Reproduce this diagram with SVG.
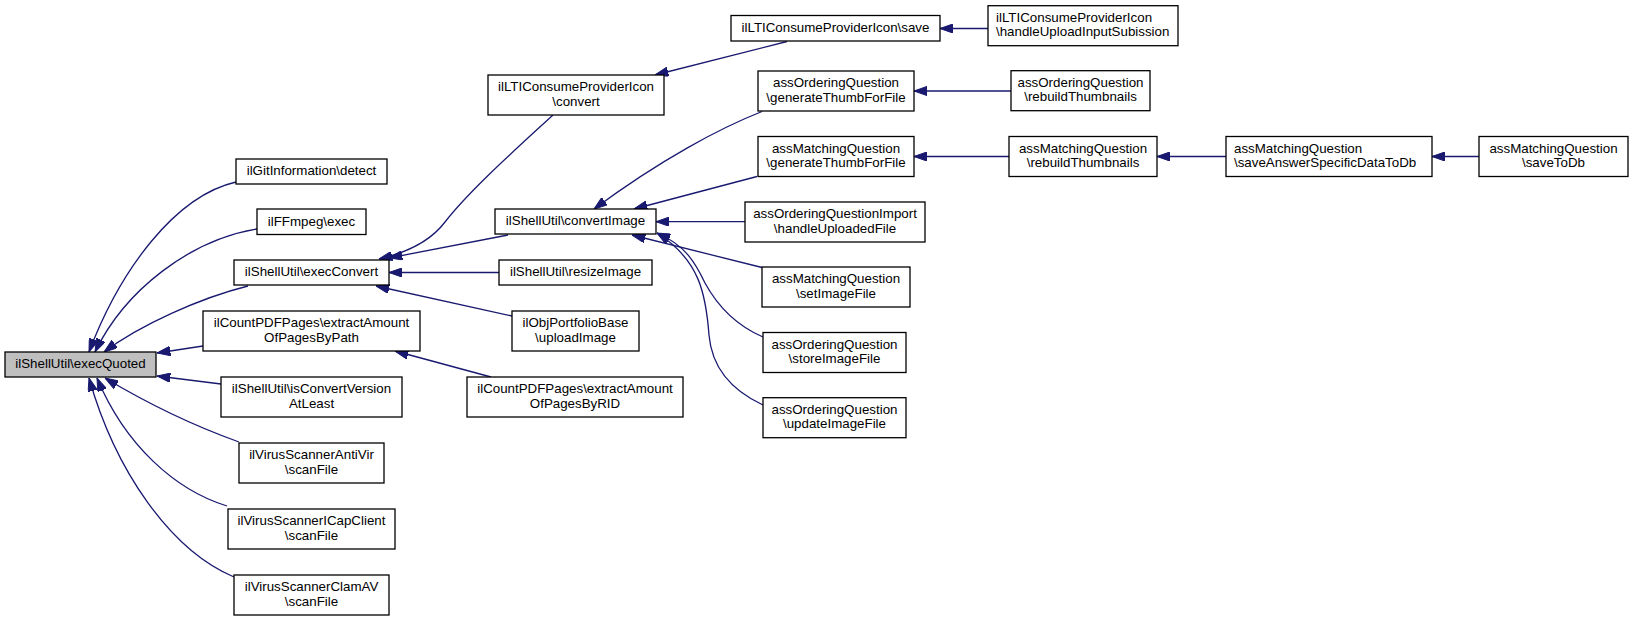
<svg xmlns="http://www.w3.org/2000/svg" width="1633" height="619" viewBox="0 0 1633 619">
<style>
.n rect{fill:#fff;stroke:#000;stroke-width:1.3}
.n text{font-family:"Liberation Sans",Arial,Helvetica,sans-serif;font-size:13.33px;fill:#000;text-anchor:middle}
.n text.l{text-anchor:start}
#edges path{fill:none;stroke:#191970;stroke-width:1.3;marker-end:url(#ah)}
</style>
<defs>
<marker id="ah" markerUnits="userSpaceOnUse" viewBox="0 0 13.3 9.4" refX="13.3" refY="4.7" markerWidth="13.3" markerHeight="9.4" orient="auto">
<path d="M0,0 L13.3,4.7 L0,9.4 z" fill="#191970" stroke="#191970" stroke-width="1"/>
</marker>
</defs>
<rect width="1633" height="619" fill="#fff"/>
<g id="edges">
<path d="M236,182 C175,196 120,270 89,352"/>
<path d="M257,229 C190,240 125,290 95,352"/>
<path d="M248,286 C200,298 140,325 104,352"/>
<path d="M203,346 L157,353"/>
<path d="M221,384 L157,376"/>
<path d="M239,442 C200,428 150,405 105,378"/>
<path d="M227,506 C175,490 125,445 97,378"/>
<path d="M234,577 C170,550 115,470 89,378"/>
<path d="M553,115 C515,150 470,190 445,222 C430,242 405,253 379,259"/>
<path d="M508,235 L389,258"/>
<path d="M499,272.5 L389,272.5"/>
<path d="M512,316 L376,286"/>
<path d="M491,377 L395,351"/>
<path d="M787,41.5 L655,75"/>
<path d="M762,111.5 C720,128 660,160 594,209"/>
<path d="M757,176.5 L634,209"/>
<path d="M745,221.7 L656,221.7"/>
<path d="M762,267.5 L632,235"/>
<path d="M763,337 C735,325 717,305 705,283 C695,262 685,245 657,233"/>
<path d="M763,405 C735,392 712,370 709,335 C706,295 700,260 657,233"/>
<path d="M988,28.5 L940,28.5"/>
<path d="M1011,91 L914,91"/>
<path d="M1009,156.5 L914,156.5"/>
<path d="M1226,156.5 L1157,156.5"/>
<path d="M1479,156.5 L1432,156.5"/>
</g>
<g id="execQuoted" class="n"><rect x="5" y="352" width="151" height="25" style="fill:#bfbfbf"/><text x="80.5" y="368">ilShellUtil\execQuoted</text></g>
<g id="gitDetect" class="n"><rect x="236" y="159" width="151" height="25"/><text x="311.5" y="175">ilGitInformation\detect</text></g>
<g id="ffmpegExec" class="n"><rect x="257" y="209" width="109" height="25.5"/><text x="311.5" y="225.5">ilFFmpeg\exec</text></g>
<g id="execConvert" class="n"><rect x="234" y="260" width="155" height="25"/><text x="311.5" y="276">ilShellUtil\execConvert</text></g>
<g id="byPath" class="n"><rect x="203" y="311" width="217" height="40"/><text x="311.5" y="327">ilCountPDFPages\extractAmount</text><text x="311.5" y="341.7">OfPagesByPath</text></g>
<g id="isConvert" class="n"><rect x="221" y="377" width="181" height="40"/><text x="311.5" y="393">ilShellUtil\isConvertVersion</text><text x="311.5" y="407.7">AtLeast</text></g>
<g id="antiVir" class="n"><rect x="239" y="443" width="145" height="40"/><text x="311.5" y="459">ilVirusScannerAntiVir</text><text x="311.5" y="473.7">\scanFile</text></g>
<g id="icap" class="n"><rect x="228" y="509" width="167" height="40"/><text x="311.5" y="525">ilVirusScannerICapClient</text><text x="311.5" y="539.7">\scanFile</text></g>
<g id="clamav" class="n"><rect x="234" y="575" width="155" height="40"/><text x="311.5" y="591">ilVirusScannerClamAV</text><text x="311.5" y="605.7">\scanFile</text></g>
<g id="ltiConvert" class="n"><rect x="488" y="75" width="176" height="40"/><text x="576" y="91">ilLTIConsumeProviderIcon</text><text x="576" y="105.7">\convert</text></g>
<g id="convertImage" class="n"><rect x="495" y="209" width="161" height="25"/><text x="575.5" y="225">ilShellUtil\convertImage</text></g>
<g id="resizeImage" class="n"><rect x="499" y="260" width="153" height="25"/><text x="575.5" y="276">ilShellUtil\resizeImage</text></g>
<g id="portfolio" class="n"><rect x="512" y="311" width="127" height="40"/><text x="575.5" y="327">ilObjPortfolioBase</text><text x="575.5" y="341.7">\uploadImage</text></g>
<g id="byRID" class="n"><rect x="467" y="377" width="216" height="40"/><text x="575" y="393">ilCountPDFPages\extractAmount</text><text x="575" y="407.7">OfPagesByRID</text></g>
<g id="ltiSave" class="n"><rect x="731" y="15.5" width="209" height="25.5"/><text x="835.5" y="32">ilLTIConsumeProviderIcon\save</text></g>
<g id="ordThumb" class="n"><rect x="758" y="71" width="156" height="40"/><text x="836" y="87">assOrderingQuestion</text><text x="836" y="101.7">\generateThumbForFile</text></g>
<g id="matchThumb" class="n"><rect x="758" y="136.5" width="156" height="40"/><text x="836" y="152.5">assMatchingQuestion</text><text x="836" y="167.2">\generateThumbForFile</text></g>
<g id="ordImport" class="n"><rect x="745" y="202" width="180" height="40"/><text x="835" y="218">assOrderingQuestionImport</text><text x="835" y="232.7">\handleUploadedFile</text></g>
<g id="matchSetImage" class="n"><rect x="762" y="267" width="148" height="40"/><text x="836" y="283">assMatchingQuestion</text><text x="836" y="297.7">\setImageFile</text></g>
<g id="ordStore" class="n"><rect x="763" y="332.5" width="143" height="40"/><text x="834.5" y="348.5">assOrderingQuestion</text><text x="834.5" y="363.2">\storeImageFile</text></g>
<g id="ordUpdate" class="n"><rect x="763" y="397.7" width="143" height="40"/><text x="834.5" y="413.7">assOrderingQuestion</text><text x="834.5" y="428.4">\updateImageFile</text></g>
<g id="ltiUpload" class="n"><rect x="988" y="5.7" width="190" height="40"/><text class="l" x="996" y="21.7">ilLTIConsumeProviderIcon</text><text class="l" x="996" y="36.4">\handleUploadInputSubission</text></g>
<g id="ordRebuild" class="n"><rect x="1011" y="70.7" width="139" height="40"/><text x="1080.5" y="86.7">assOrderingQuestion</text><text x="1080.5" y="101.4">\rebuildThumbnails</text></g>
<g id="matchRebuild" class="n"><rect x="1009" y="136.5" width="148" height="40"/><text x="1083" y="152.5">assMatchingQuestion</text><text x="1083" y="167.2">\rebuildThumbnails</text></g>
<g id="saveAnswer" class="n"><rect x="1226" y="136.5" width="206" height="40"/><text class="l" x="1234" y="152.5">assMatchingQuestion</text><text class="l" x="1234" y="167.2">\saveAnswerSpecificDataToDb</text></g>
<g id="saveToDb" class="n"><rect x="1479" y="136.5" width="149" height="40"/><text x="1553.5" y="152.5">assMatchingQuestion</text><text x="1553.5" y="167.2">\saveToDb</text></g>
</svg>
